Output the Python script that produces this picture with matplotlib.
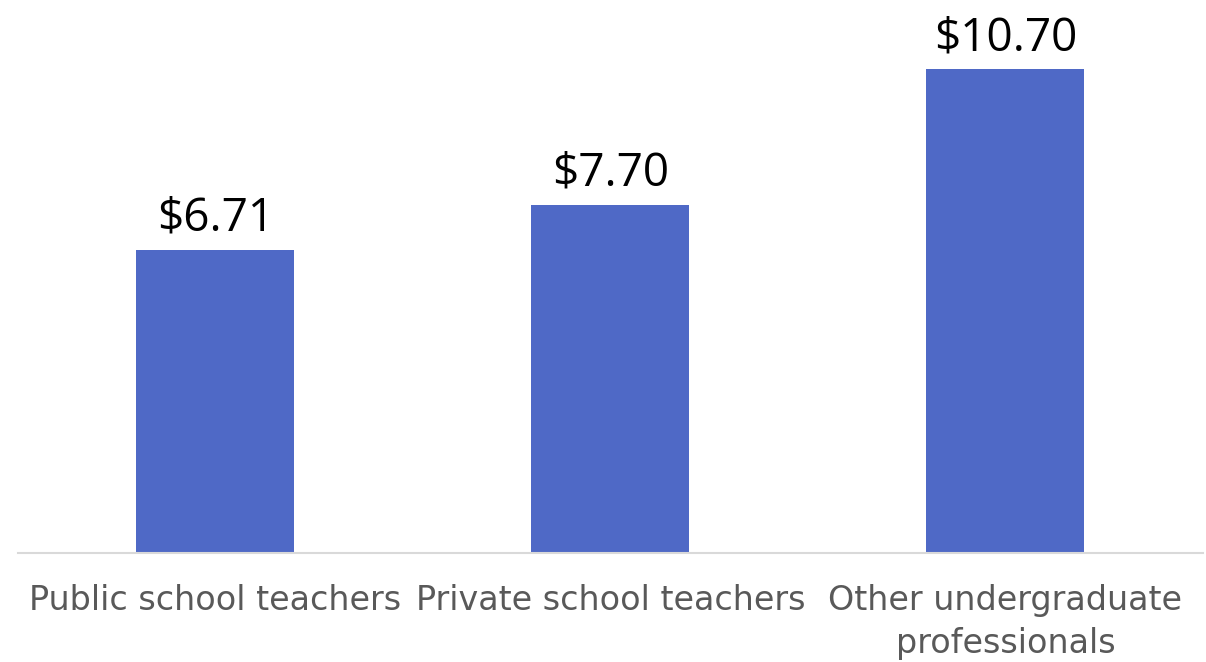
import matplotlib
matplotlib.use("Agg")
import matplotlib.pyplot as plt

categories = ["Public school teachers", "Private school teachers", "Other undergraduate\nprofessionals"]
values = [6.71, 7.70, 10.70]
value_labels = ["$6.71", "$7.70", "$10.70"]

fig = plt.figure(figsize=(12.06, 6.62), dpi=100)
ax = fig.add_axes([0.0149, 0.1647, 0.9826, 0.8193])
x = list(range(len(categories)))
bars = ax.bar(x, values, width=0.4, color="#4F69C6", zorder=2)
ax.set_xlim(-0.5, 2.5)
ax.set_ylim(0, 12)
for b, lab in zip(bars, value_labels):
    ax.annotate(lab.replace("$", r"\$"), (b.get_x() + b.get_width() / 2, b.get_height()),
                xytext=(0, 6), textcoords="offset points", ha="center", va="bottom",
                fontsize=33, family="Open Sans", color="black")
ax.set_xticks(x)
ax.set_xticklabels(categories, fontsize=24, family="DejaVu Sans", color="#595959", linespacing=1.4)
ax.tick_params(axis="x", length=0, pad=22)
ax.set_yticks([])
for s in ["top", "right", "left"]:
    ax.spines[s].set_visible(False)
ax.spines["bottom"].set_color("#D9D9D9")
ax.spines["bottom"].set_linewidth(1.5)
fig.savefig("out.png", dpi=100)
